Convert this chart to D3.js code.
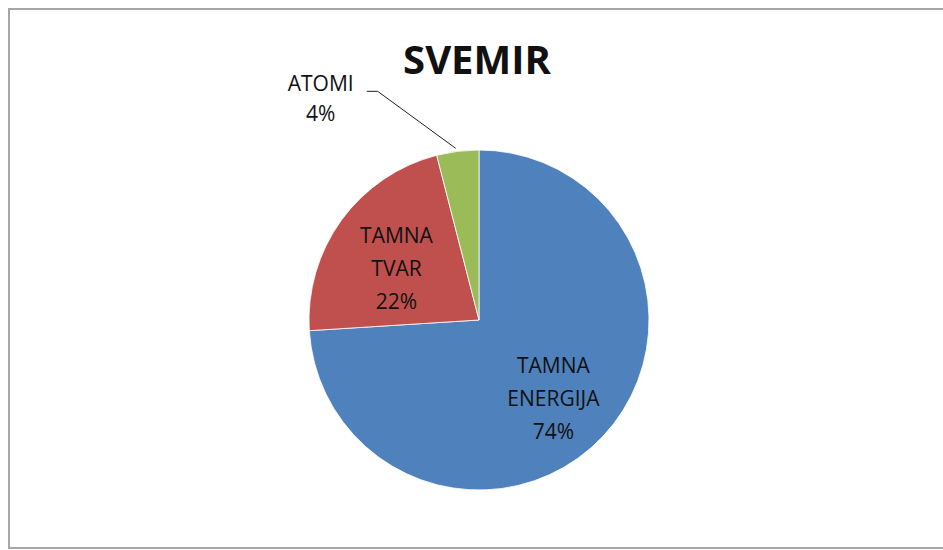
<!DOCTYPE html>
<html lang="en">
<head>
    <meta charset="utf-8">
    <title>SVEMIR</title>
    <script src="https://cdn.jsdelivr.net/npm/d3@7"></script>
    <style>
        body { margin: 0; background: #fff; }
        text { font-family: "Open Sans", sans-serif; fill: #111; }
    </style>
</head>
<body>
    <script>
        // chart data
        var labels = ["TAMNA\nENERGIJA", "TAMNA\nTVAR", "ATOMI"];
        var values = [74, 22, 4];
        var colors = ["#4F81BD", "#C0504D", "#9BBB59"];
        var title = "SVEMIR";

        var w = 943, h = 550;
        var cx = 479, cy = 320, r = 170;

        var svg = d3.select("body").append("svg")
            .attr("width", w)
            .attr("height", h);

        // outer border
        svg.append("rect")
            .attr("x", 9).attr("y", 9)
            .attr("width", w + 10).attr("height", 539)
            .attr("fill", "none")
            .attr("stroke", "#a6a6a6")
            .attr("stroke-width", 2);

        svg.append("text")
            .attr("x", 477).attr("y", 74)
            .attr("text-anchor", "middle")
            .style("font-size", "40px")
            .style("font-weight", "bold")
            .text(title);

        var data = labels.map(function (l, i) { return { label: l, value: values[i], color: colors[i] }; });

        var pie = d3.pie().sort(null).value(function (d) { return d.value; });
        var arc = d3.arc().innerRadius(0).outerRadius(r);
        var labelArc = d3.arc().innerRadius(r * 0.6).outerRadius(r * 0.6);

        var g = svg.append("g").attr("transform", "translate(" + cx + "," + cy + ")");
        var arcs = pie(data);

        g.selectAll("path")
            .data(arcs)
            .enter().append("path")
            .attr("d", arc)
            .attr("fill", function (d) { return d.data.color; })
            .attr("stroke", "#fff")
            .attr("stroke-width", 0.8);

        var lineH;

        arcs.forEach(function (d) {
            var lines = d.data.label.split("\n").concat([d.data.value + "%"]);
            var pos;
            var small = d.data.value < 10;
            if (small) {
                // outside label with leader line
                var a = (d.startAngle + d.endAngle) / 2;
                var ex = r * Math.sin(a), ey = -r * Math.cos(a);
                var elbow = [ex - 80, ey - 60];
                g.append("polyline")
                    .attr("points", [[ex - 2, ey - 3], elbow, [elbow[0] - 11, elbow[1]]].map(function (p) { return p.join(","); }).join(" "))
                    .attr("fill", "none")
                    .attr("stroke", "#222")
                    .attr("stroke-width", 1);
                pos = [elbow[0] - 57, elbow[1] + 8];
                lineH = 30;
            } else {
                pos = labelArc.centroid(d);
                pos[1] += 9;
                lineH = 33;
            }
            var t = g.append("text")
                .attr("text-anchor", "middle")
                .style("font-size", "21px");
            var y0 = pos[1] - (lines.length - 1) * lineH / 2 + 7;
            lines.forEach(function (s, i) {
                t.append("tspan")
                    .attr("x", pos[0])
                    .attr("y", y0 + i * lineH)
                    .text(s);
            });
        });
    </script>
</body>
</html>
